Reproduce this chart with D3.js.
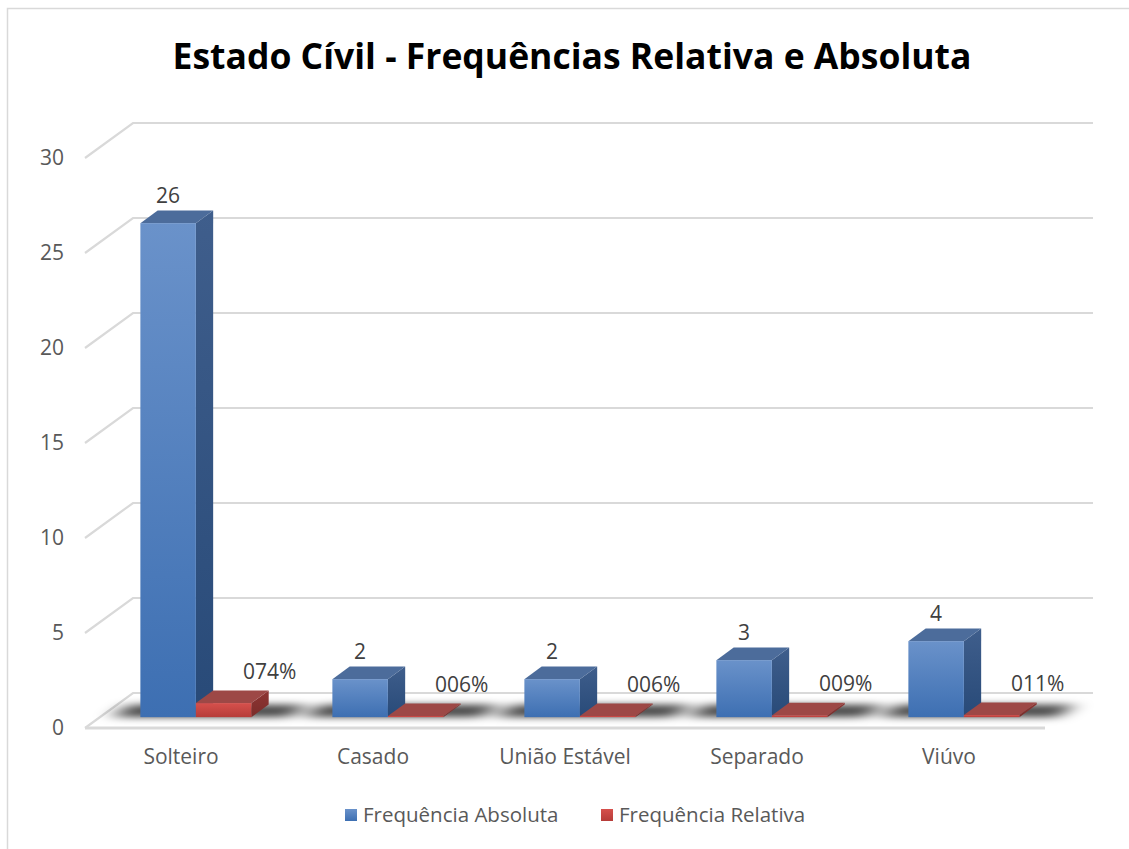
<!DOCTYPE html>
<html>
<head>
<meta charset="utf-8">
<script src="https://cdn.jsdelivr.net/npm/d3@7"></script>
<style>
  html, body { margin: 0; padding: 0; background: #fff; }
  svg { display: block; font-family: "Open Sans", "Noto Sans", sans-serif; }
</style>
</head>
<body>
<svg id="chart" width="1129" height="849"></svg>
<script>
const categories = ["Solteiro", "Casado", "União Estável", "Separado", "Viúvo"];
const absoluta = [26, 2, 2, 3, 4];
const relativa = [0.74, 0.06, 0.06, 0.09, 0.11];
const relativaLabels = ["074%", "006%", "006%", "009%", "011%"];
const seriesNames = ["Frequência Absoluta", "Frequência Relativa"];
const yTicks = [0, 5, 10, 15, 20, 25, 30];
const title = "Estado Cívil - Frequências Relativa e Absoluta";

const svg = d3.select("#chart");
const W = 1129, H = 849;

// 3D geometry
const floorFront = 728;
const DX = 48, DY = -35;          // full depth vector
const f0 = 0.31, f1 = 0.67;       // bar front/back depth fractions
const left = 85, right = 1045;

const y = d3.scaleLinear().domain([0, 30]).range([floorFront, floorFront - 570]);
const x0 = d3.scaleBand().domain(categories).range([left, right]).padding(0);
const groupW = 111;
const x1 = d3.scaleBand().domain(seriesNames).range([0, groupW]).padding(0);
const groupOff = (x0.bandwidth() - groupW) / 2;

const defs = svg.append("defs");
function lin(id, stops, vertical = true) {
  const g = defs.append("linearGradient").attr("id", id)
    .attr("x1", 0).attr("y1", 0).attr("x2", vertical ? 0 : 1).attr("y2", vertical ? 1 : 0);
  stops.forEach(([o, c]) => g.append("stop").attr("offset", o).attr("stop-color", c));
}
lin("bFront", [[0, "#6a92ca"], [1, "#3d6fb2"]]);
lin("bSide", [[0, "#3f5e8c"], [1, "#284a78"]]);
lin("rFront", [[0, "#d6504c"], [1, "#b63c39"]]);
lin("rSide", [[0, "#8e3533"], [1, "#7a2c2a"]]);
lin("bLeg", [[0, "#6a92ca"], [1, "#3d6fb2"]]);
lin("rLeg", [[0, "#d6504c"], [1, "#b63c39"]]);
defs.append("filter").attr("id", "blur").attr("x", "-50%").attr("y", "-100%").attr("width", "200%").attr("height", "300%")
  .append("feGaussianBlur").attr("stdDeviation", "10 3.5");

// Border
svg.append("rect").attr("x", 7.5).attr("y", 8.5).attr("width", W + 20).attr("height", H + 20)
  .attr("fill", "none").attr("stroke", "#d9d9d9").attr("stroke-width", 1.5);

// Title
svg.append("text").attr("x", 572).attr("y", 69).attr("text-anchor", "middle")
  .attr("font-size", 35.5).attr("font-weight", "bold").attr("fill", "#000").text(title);

// Gridlines
const grid = svg.append("g");
yTicks.forEach(t => {
  const yf = y(t);
  const pts = [[left, yf], [left + DX, yf + DY], [right + DX, yf + DY]];
  grid.append("path").attr("d", d3.line()(pts)).attr("fill", "none")
    .attr("stroke", "#d9d9d9").attr("stroke-width", 2.2);
});
// floor front edge
grid.append("line").attr("x1", left).attr("x2", right).attr("y1", floorFront).attr("y2", floorFront)
  .attr("stroke", "#d9d9d9").attr("stroke-width", 3);

// Y labels
svg.append("g").selectAll("text").data(yTicks).join("text")
  .attr("x", 64).attr("y", d => y(d)).attr("dy", "0.35em").attr("text-anchor", "end")
  .attr("font-size", 21).attr("fill", "#595959").text(d => d);

// Shadows on floor
const shadowG = svg.append("g").attr("filter", "url(#blur)");
categories.forEach((c, i) => {
  const xs = x0(c) + groupOff;
  const pts = [
    [xs - 28 + f0 * DX, floorFront + f0 * DY],
    [xs + groupW + 38 + f0 * DX, floorFront + f0 * DY],
    [xs + groupW + 38 + f1 * DX, floorFront + f1 * DY],
    [xs - 28 + f1 * DX, floorFront + f1 * DY]
  ];
  shadowG.append("path").attr("d", d3.line()(pts) + "Z").attr("fill", "#000").attr("opacity", 0.7);
});

// Bars
const data = [];
categories.forEach((c, i) => {
  data.push({ c, s: seriesNames[0], v: absoluta[i], label: String(absoluta[i]), k: "b" });
  data.push({ c, s: seriesNames[1], v: relativa[i], label: relativaLabels[i], k: "r" });
});
const barsG = svg.append("g");
const tops = { b: "#4c6c9b", r: "#9d4846" };
data.forEach(d => {
  const xl = x0(d.c) + groupOff + x1(d.s) + f0 * DX;
  const w = x1.bandwidth();
  const yb = y(0) + f0 * DY;
  const yt = y(d.v) + f0 * DY;
  const ddx = (f1 - f0) * DX, ddy = (f1 - f0) * DY;
  const g = barsG.append("g");
  g.append("path").attr("d", d3.line()([[xl + w, yt], [xl + w + ddx, yt + ddy], [xl + w + ddx, yb + ddy], [xl + w, yb]]) + "Z")
    .attr("fill", `url(#${d.k}Side)`);
  g.append("path").attr("d", d3.line()([[xl, yt], [xl + ddx, yt + ddy], [xl + w + ddx, yt + ddy], [xl + w, yt]]) + "Z")
    .attr("fill", tops[d.k]);
  g.append("rect").attr("x", xl).attr("y", yt).attr("width", w).attr("height", Math.max(0.5, yb - yt))
    .attr("fill", `url(#${d.k}Front)`);
  const lx = d.k === "b" ? xl + w / 2 : xl + w / 2 + 46;
  const ly = yt + ddy - (d.k === "b" ? 15 : 19);
  g.append("text").attr("x", lx).attr("y", ly).attr("dy", "0.35em").attr("text-anchor", "middle")
    .attr("font-size", 21).attr("fill", "#404040").text(d.label);
});

// Category labels
svg.append("g").selectAll("text").data(categories).join("text")
  .attr("x", d => x0(d) + x0.bandwidth() / 2).attr("y", 757).attr("dy", "0.35em")
  .attr("text-anchor", "middle").attr("font-size", 21).attr("fill", "#595959").text(d => d);

// Legend
const legend = svg.append("g");
const legendX = [345, 601];
const legendFill = ["url(#bLeg)", "url(#rLeg)"];
seriesNames.forEach((s, i) => {
  legend.append("rect").attr("x", legendX[i]).attr("y", 809).attr("width", 12).attr("height", 12)
    .attr("fill", legendFill[i]);
  legend.append("text").attr("x", legendX[i] + 18).attr("y", 815).attr("dy", "0.35em")
    .attr("font-size", 20.5).attr("fill", "#595959").text(s);
});
</script>
</body>
</html>
